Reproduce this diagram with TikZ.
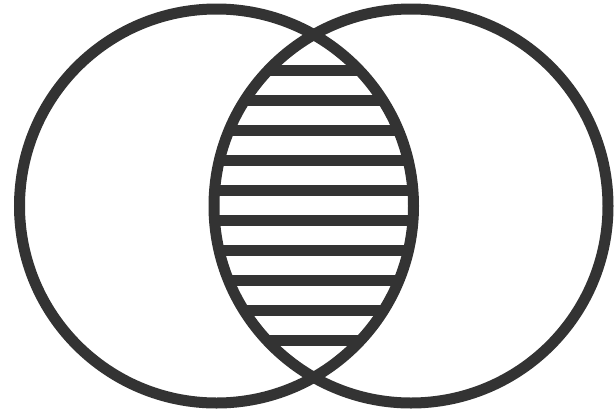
\documentclass[tikz,border=0pt]{standalone}
\definecolor{venngray}{HTML}{333333}
\begin{document}
\begin{tikzpicture}[x=1pt,y=-1pt,line width=11pt,draw=venngray]
	\useasboundingbox (0,0) rectangle (616,413);
	% stripes in the overlap
	\begin{scope}
		\clip (216.5,206) circle (197pt);
		\clip (411,206) circle (197pt);
		\foreach \y in {70.5,100.5,...,340.5}
			\draw (200,\y) -- (430,\y);
	\end{scope}
	\draw (216.5,206) circle (197pt);
	\draw (411,206) circle (197pt);
\end{tikzpicture}
\end{document}
